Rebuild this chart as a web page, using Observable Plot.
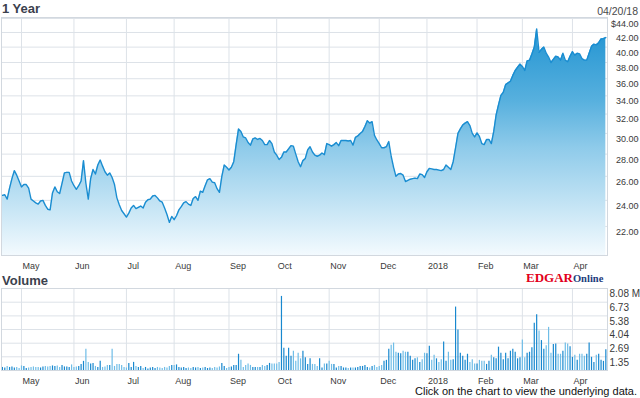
<!DOCTYPE html>
<html>
<head>
<meta charset="utf-8">
<script src="https://cdn.jsdelivr.net/npm/d3@7"></script>
<script src="https://cdn.jsdelivr.net/npm/@observablehq/plot@0.6"></script>
<style>
html,body{margin:0;padding:0;background:#fff;}
#wrap{position:relative;width:640px;height:398px;overflow:hidden;font-family:"Liberation Sans",Arial,sans-serif;}
#wrap > *{position:absolute;left:0;}
</style>
</head>
<body>
<div id="wrap"></div>
<script>
// Daily closing prices (USD), 04/19/17 .. 04/20/18, one per trading day
const priceValues = [
  24.4, 24.45, 24.1, 25.0, 25.8, 26.5, 26.1, 25.6, 25.1, 25.3,
  25.3, 25.0, 24.1, 23.95, 23.8, 23.7, 23.95, 24.0, 23.6, 23.3,
  23.25, 24.6, 25.1, 24.7, 24.55, 25.4, 26.3, 26.35, 26.35, 25.6,
  25.2, 24.9, 25.2, 25.6, 27.4, 25.4, 24.1, 25.8, 26.6, 26.2,
  27.0, 27.45, 26.9, 26.4, 26.1, 26.3, 25.9, 25.3, 24.2, 23.65,
  23.2, 22.95, 22.7, 23.0, 23.4, 23.6, 23.35, 23.45, 23.55, 23.4,
  23.85, 24.05, 24.1, 24.35, 24.4, 24.2, 23.95, 23.85, 23.4, 22.9,
  22.3, 22.75, 22.5, 22.8, 23.25, 23.5, 23.8, 23.9, 23.7, 23.6,
  24.15, 24.3, 24.0, 24.75, 24.65, 25.2, 25.7, 25.8, 25.5, 25.45,
  24.95, 24.65, 26.0, 27.0, 26.8, 26.55, 26.8, 27.3, 28.9, 30.45,
  30.2, 29.65, 29.55, 29.1, 28.85, 29.45, 29.55, 29.4, 29.5, 29.3,
  28.9, 28.9, 29.3, 29.0, 28.2, 27.9, 27.5, 27.7, 28.2, 28.2,
  28.5, 28.8, 28.75, 28.0, 27.3, 26.85, 27.4, 27.6, 28.4, 28.7,
  28.2, 27.9, 27.8, 27.9, 28.1, 27.95, 29.0, 28.9, 28.75, 28.9,
  29.1, 28.8, 29.3, 29.3, 29.3, 29.25, 29.3, 28.85, 29.6, 29.75,
  30.0, 30.2, 30.7, 31.3, 31.05, 31.2, 29.8, 29.35, 29.0, 28.6,
  28.6, 28.7, 29.2, 27.8, 26.8, 26.0, 26.2, 26.25, 26.1, 25.55,
  25.65, 25.75, 25.8, 25.85, 25.8, 26.2, 26.15, 25.9, 26.4, 26.7,
  26.65, 26.6, 26.6, 26.55, 26.5, 26.6, 27.0, 26.8, 26.6, 27.3,
  28.6, 30.0, 30.45, 30.85, 31.05, 31.2, 30.8, 30.0, 29.65, 30.05,
  29.7, 29.0, 28.9, 29.4, 29.4, 29.0, 30.2, 31.9, 33.0, 34.05,
  34.4, 35.3, 35.5, 35.7, 36.4, 37.0, 37.4, 37.8, 37.5, 37.0,
  38.2, 38.3, 39.1, 40.0, 42.5, 39.3, 39.7, 40.0, 39.2, 38.7,
  38.0, 38.4, 38.8, 38.7, 38.3, 39.2, 38.3, 38.1, 38.8, 39.4,
  38.95, 39.2, 39.1, 38.5, 38.3, 38.3, 39.2, 40.1, 40.4, 40.3,
  40.6, 41.1, 41.15, 41.3
];

// Daily volume, millions of shares
const volumeValues = [
  0.3, 0.25, 0.4, 0.3, 0.35, 0.25, 0.3, 0.2, 0.45, 0.4,
  0.2, 0.25, 0.3, 0.35, 0.3, 0.3, 0.25, 0.35, 0.4, 0.35,
  0.4, 0.45, 0.4, 0.45, 0.3, 0.5, 0.35, 0.35, 0.3, 0.55,
  0.3, 0.35, 0.4, 0.6, 0.9, 2.1, 0.8, 0.65, 0.7, 0.4,
  0.3, 0.9, 0.3, 0.35, 0.5, 0.5, 2.1, 0.4, 0.6, 0.6,
  0.5, 0.3, 0.25, 0.7, 0.3, 0.8, 0.4, 0.3, 0.4, 0.2,
  0.3, 0.15, 0.25, 0.3, 0.2, 0.3, 0.25, 0.2, 0.3, 0.25,
  0.4, 0.5, 0.5, 0.55, 0.3, 0.25, 0.3, 0.2, 0.25, 0.2,
  0.3, 0.25, 0.3, 0.2, 0.25, 0.3, 0.2, 0.25, 0.2, 0.3,
  0.25, 0.35, 0.7, 0.4, 0.2, 0.3, 0.35, 0.5, 0.5, 1.6,
  1.0, 0.3, 0.5, 0.65, 0.5, 0.3, 0.3, 0.3, 0.3, 0.5,
  0.4, 0.5, 0.7, 0.65, 0.65, 0.65, 0.8, 7.3, 2.2, 1.4,
  2.2, 1.4, 1.9, 0.9, 1.7, 1.15, 1.9, 1.25, 0.6, 1.15,
  0.6, 0.6, 0.4, 1.15, 0.25, 0.65, 0.65, 0.9, 0.6, 0.6,
  0.25, 0.4, 0.4, 0.25, 0.25, 0.2, 0.25, 0.25, 0.25, 0.3,
  0.4, 0.4, 0.5, 0.3, 0.25, 0.4, 0.5, 0.3, 0.4, 0.5,
  0.9, 1.0, 2.1, 2.5, 2.7, 1.8, 1.7, 1.65, 1.9, 1.8,
  1.8, 1.4, 1.0, 1.15, 1.25, 0.8, 1.05, 1.7, 1.65, 2.4,
  1.0, 1.5, 1.15, 0.8, 1.05, 2.8, 0.9, 1.8, 1.0, 1.05,
  6.25, 4.0, 1.7, 1.4, 1.0, 1.6, 0.8, 1.05, 0.65, 0.65,
  1.0, 0.9, 0.9, 0.6, 0.9, 1.5, 1.25, 1.15, 2.3, 1.7,
  1.05, 1.7, 1.15, 1.9, 2.1, 1.8, 1.15, 1.25, 3.0, 1.25,
  1.7, 1.8, 2.25, 4.65, 5.5, 3.9, 2.95, 2.1, 2.45, 4.25,
  1.7, 2.55, 2.6, 1.6, 1.6, 1.9, 2.7, 2.6, 2.35, 1.3,
  1.5, 1.0, 1.6, 1.6, 1.4, 1.6, 2.7, 1.3, 0.8, 1.5,
  1.6, 1.0, 0.9, 2.05
];

// Month tick labels and the trading-day index where each month starts
const monthLabels = ["May", "Jun", "Jul", "Aug", "Sep", "Oct", "Nov", "Dec", "2018", "Feb", "Mar", "Apr"];
const monthIndex  = [8, 30, 52, 72, 95, 115, 137, 158, 178, 199, 218, 239];

const priceTicks  = [22, 24, 26, 28, 30, 32, 34, 36, 38, 40, 42, 44];
const volumeTicks = [1.35, 2.69, 4.04, 5.38, 6.73, 8.08];

const titleText = "1 Year";
const dateText = "04/20/18";
const volumeTitle = "Volume";
const captionText = "Click on the chart to view the underlying data.";

const rows = priceValues.map((p, i) => ({
  i, p, v: volumeValues[i], up: i === 0 || p >= priceValues[i - 1]
}));

const font = '"Liberation Sans", Arial, sans-serif';
const gridColor = "#dde2e8";
const frameColor = "#d2d8df";
const xDomain = [-0.38, 253.7];
const yMin = 19.97;
const monthFmt = d => monthLabels[monthIndex.indexOf(d)];

const price = Plot.plot({
  width: 640, height: 272,
  marginTop: 17, marginBottom: 17, marginLeft: 1, marginRight: 33,
  style: {fontFamily: font, fontSize: "9px", color: "#3a3a3a", background: "transparent", overflow: "visible"},
  x: {domain: xDomain, axis: null, label: null},
  y: {type: "log", domain: [yMin, 44.15], axis: null, label: null},
  marks: [
    Plot.gridY(priceTicks, {stroke: gridColor, strokeOpacity: 1}),
    Plot.gridX(monthIndex, {stroke: gridColor, strokeOpacity: 1}),
    Plot.areaY(rows, {x: "i", y1: yMin, y2: "p", fill: "url(#priceFill)"}),
    Plot.lineY(rows, {x: "i", y: "p", stroke: "#1a8dd1", strokeWidth: 1.4}),
    Plot.frame({stroke: frameColor}),
    Plot.axisY(priceTicks, {anchor: "right", label: null, tickSize: 3, tickPadding: 0, stroke: frameColor,
      textAnchor: "end", dx: 28, dy: 5.5, tickFormat: d => (d === 44 ? "$" : "") + d.toFixed(2)}),
    Plot.axisX(monthIndex, {anchor: "bottom", label: null, tickSize: 0, tickPadding: 7, textAnchor: "start", dx: 1, tickFormat: monthFmt})
  ]
});

const grad = d3.select(price).insert("defs", ":first-child")
  .append("linearGradient")
  .attr("id", "priceFill")
  .attr("gradientUnits", "userSpaceOnUse")
  .attr("x1", 0).attr("x2", 0).attr("y1", 17).attr("y2", 255);
[[0, "#1a90d0"], [0.35, "#57b0de"], [0.55, "#8fcbea"], [0.8, "#c6e5f5"], [1, "#f3fafe"]]
  .forEach(([o, c]) => grad.append("stop").attr("offset", o).attr("stop-color", c));

const vol = Plot.plot({
  width: 640, height: 128,
  marginTop: 18, marginBottom: 28, marginLeft: 1, marginRight: 33,
  style: {fontFamily: font, fontSize: "9px", color: "#3a3a3a", background: "transparent", overflow: "visible"},
  x: {domain: xDomain, axis: null, label: null},
  y: {domain: [0, 8.08], axis: null, label: null},
  marks: [
    Plot.gridY(volumeTicks, {stroke: gridColor, strokeOpacity: 1}),
    Plot.gridX(monthIndex, {stroke: gridColor, strokeOpacity: 1}),
    Plot.ruleX(rows, {x: "i", y1: 0, y2: "v", stroke: d => d.up ? "#1888cf" : "#6fbde7", strokeWidth: 1.2}),
    Plot.frame({stroke: frameColor}),
    Plot.axisY(volumeTicks, {anchor: "right", label: null, tickSize: 0, tickPadding: 2, dy: 5.5, fontSize: 10,
      tickFormat: d => d === 8.08 ? "8.08 M" : d.toFixed(2)}),
    Plot.axisX(monthIndex, {anchor: "bottom", label: null, tickSize: 0, tickPadding: 7, textAnchor: "start", dx: 1, tickFormat: monthFmt})
  ]
});

const wrap = document.getElementById("wrap");
price.style.top = "0px";
vol.style.top = "270px";
wrap.appendChild(price);
wrap.appendChild(vol);

// Titles, logo and caption as text overlay
const ov = d3.create("svg").attr("width", 640).attr("height", 398)
  .style("top", "0px").style("pointer-events", "none")
  .attr("font-family", font);
ov.append("text").attr("x", 2).attr("y", 13.3).attr("font-size", 13).attr("font-weight", "bold")
  .attr("fill", "#3b414d").text(titleText);
ov.append("text").attr("x", 638).attr("y", 14.5).attr("font-size", 10.5).attr("text-anchor", "end")
  .attr("fill", "#4a4a4a").text(dateText);
ov.append("text").attr("x", 2).attr("y", 285).attr("font-size", 13).attr("font-weight", "bold")
  .attr("fill", "#3b414d").text(volumeTitle);
const logo = ov.append("text").attr("x", 526).attr("y", 282)
  .attr("font-family", '"Liberation Serif", "Times New Roman", serif').attr("font-weight", "bold");
logo.append("tspan").attr("font-size", 13).attr("fill", "#e2001a").text("EDGAR");
logo.append("tspan").attr("font-size", 10.5).attr("fill", "#1d3c7c").text("Online");
ov.append("text").attr("x", 637).attr("y", 394.5).attr("font-size", 11).attr("text-anchor", "end")
  .attr("fill", "#111").text(captionText);
wrap.appendChild(ov.node());
</script>
</body>
</html>
